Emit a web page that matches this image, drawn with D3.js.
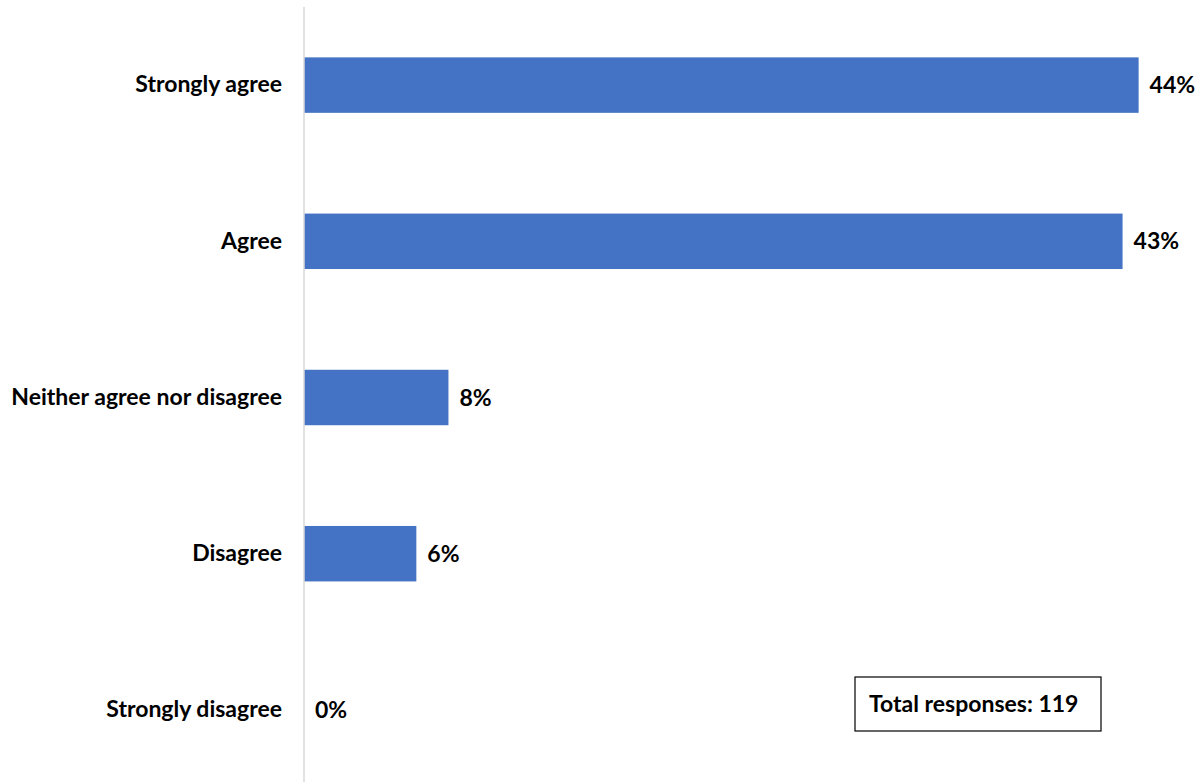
<!DOCTYPE html>
<html>
<head>
<meta charset="utf-8">
<script src="https://cdn.jsdelivr.net/npm/d3@7"></script>
<style>
  html, body { margin: 0; padding: 0; background: #fff; }
  svg { display: block; }
  text { font-family: Lato, "Open Sans", sans-serif; font-weight: 700; fill: #000; }
</style>
</head>
<body>
<svg id="chart" width="1202" height="782"></svg>
<script>
// Survey responses (counts out of the total)
const categories = ["Strongly agree", "Agree", "Neither agree nor disagree", "Disagree", "Strongly disagree"];
const counts = [52, 51, 9, 7, 0];
const totalResponses = 119;
const shares = counts.map(c => c / totalResponses);

const svg = d3.select("#chart");
const axisX = 304;

const x = d3.scaleLinear().domain([0, 0.46]).range([axisX, axisX + 0.46 * 1910]);
const y = d3.scaleBand().domain(categories).range([7, 788])
  .paddingInner(0.645).paddingOuter(0.3225);

const fmt = d3.format(".0%");
const fontSize = 23;

// Bars
svg.append("g").selectAll("rect").data(categories).join("rect")
  .attr("x", x(0))
  .attr("y", d => y(d))
  .attr("width", (d, i) => x(shares[i]) - x(0))
  .attr("height", y.bandwidth())
  .attr("fill", "#4472C4");

// Category axis
const yAxis = svg.append("g")
  .attr("transform", `translate(${axisX},0)`)
  .call(d3.axisLeft(y).tickSize(0).tickPadding(22));
yAxis.select(".domain").attr("stroke", "#d9d9d9").attr("stroke-width", 1.5)
  .attr("d", "M0,7V782");
yAxis.selectAll("text")
  .style("font-family", "Lato, sans-serif")
  .style("font-weight", 700)
  .attr("font-size", fontSize)
  .attr("fill", "#000");

// Value labels
svg.append("g").selectAll("text").data(categories).join("text")
  .attr("x", (d, i) => x(shares[i]) + 11)
  .attr("y", d => y(d) + y.bandwidth() / 2)
  .attr("dy", "0.35em")
  .attr("font-size", fontSize)
  .text((d, i) => fmt(shares[i]));

// Total responses note
const note = svg.append("g").attr("transform", "translate(855,677)");
note.append("rect").attr("width", 246).attr("height", 54)
  .attr("fill", "#fff").attr("stroke", "#000").attr("stroke-width", 1.2);
note.append("text").attr("x", 14).attr("y", 27).attr("dy", "0.35em")
  .attr("font-size", fontSize)
  .text(`Total responses: ${totalResponses}`);
</script>
</body>
</html>
